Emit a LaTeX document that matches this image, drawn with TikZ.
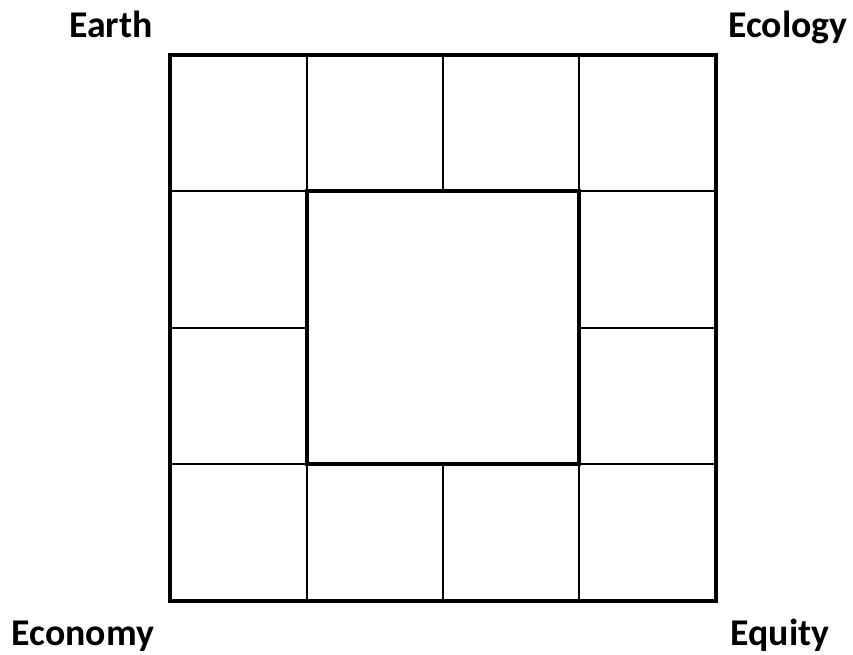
\documentclass[tikz,border=0pt]{standalone}
\usepackage{fontspec}
\setmainfont{Carlito}
\usepackage{tikz}
\usetikzlibrary{positioning}
\tikzset{
  frame line/.style={draw=black, line width=2.4pt, line cap=rect},
  cell line/.style={draw=black, line width=1.1pt},
  corner label/.style={font=\bfseries\fontsize{21.5}{26}\selectfont, anchor=base, inner sep=0pt},
}

\begin{document}
\begin{tikzpicture}[x=0.02cm, y=-0.02cm]
    \useasboundingbox (0,0) rectangle (853,655);

    % Ring of cells
    \foreach \x in {307,443,579} {
      \draw[cell line] (\x,55) -- (\x,191);
      \draw[cell line] (\x,464) -- (\x,601);
    }
    \foreach \y in {191,328,464} {
      \draw[cell line] (170,\y) -- (307,\y);
      \draw[cell line] (579,\y) -- (716,\y);
    }

    % Frames
    \draw[frame line] (170,55) rectangle (716,601);
    \draw[frame line] (307,191) rectangle (579,464);

    % Labels
    \node[corner label] (earth) at (111,38) {Earth};
    \node[corner label] (ecology) at (788,38) {Ecology};
    \node[corner label] (economy) at (83,645) {Economy};
    \node[corner label] (equity) at (780,645) {Equity};
  \end{tikzpicture}
\end{document}
